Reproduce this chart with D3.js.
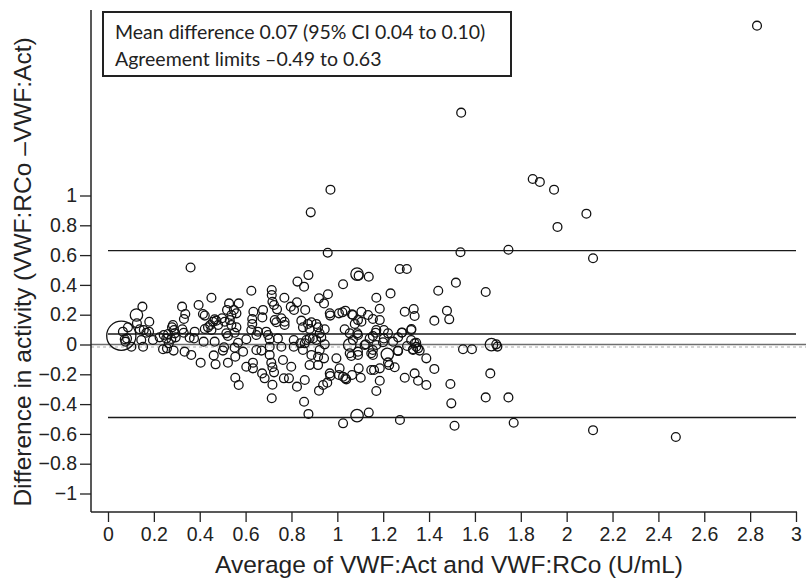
<!DOCTYPE html>
<html>
<head>
<meta charset="utf-8">
<script src="https://cdn.jsdelivr.net/npm/d3@7"></script>
<style>
  body { margin: 0; background: #fff; }
  svg { display: block; }
</style>
</head>
<body>
<svg id="chart"></svg>
<script>
//Canvas settings
var width = 806;
var height = 583;

//Summary values shown on the chart
var meanDiff = 0.07;
var upperLimit = 0.63;
var lowerLimit = -0.49;
var legendLines = ["Mean difference 0.07 (95% CI 0.04 to 0.10)", "Agreement limits \u20130.49 to 0.63"];

//Tick labels
var xTicks = [0, 0.2, 0.4, 0.6, 0.8, 1, 1.2, 1.4, 1.6, 1.8, 2, 2.2, 2.4, 2.6, 2.8, 3];
var yTicks = [-1, -0.8, -0.6, -0.4, -0.2, 0, 0.2, 0.4, 0.6, 0.8, 1];

//Single observations [average, difference]
var singlePoints = [
  [2.83,2.14],[1.54,1.556],[1.852,1.111],[1.883,1.091],[1.945,1.039],[2.086,0.878],[1.96,0.789],
  [1.537,0.619],[1.746,0.636],[2.115,0.579],[0.97,1.039],[0.884,0.887],[0.958,0.616],[2.476,-0.621],
  [0.36,0.517],[0.874,0.466],[0.826,0.422],[0.855,0.388],[1.025,0.404],[0.625,0.361],[0.714,0.366],
  [0.714,0.332],[0.717,0.287],[0.724,0.265],[0.737,0.236],[0.451,0.314],[0.769,0.314],[0.959,0.337],
  [0.92,0.31],[0.942,0.276],[0.15,0.254],[0.323,0.254],[0.337,0.205],[0.331,0.171],[0.395,0.265],
  [0.528,0.276],[0.57,0.276],[0.549,0.232],[0.519,0.232],[0.538,0.198],[0.56,0.209],[0.797,0.254],
  [0.811,0.232],[0.824,0.283],[0.86,0.232],[0.634,0.22],[0.676,0.232],[0.673,0.182],[0.629,0.171],
  [0.629,0.138],[0.414,0.205],[0.422,0.194],[0.18,0.153],[0.283,0.131],[0.279,0.115],[0.288,0.097],
  [0.465,0.169],[0.458,0.153],[0.472,0.16],[0.446,0.131],[0.436,0.115],[0.422,0.104],[0.451,0.097],
  [0.48,0.131],[0.497,0.176],[0.509,0.153],[0.531,0.164],[0.538,0.131],[0.727,0.164],[0.734,0.149],
  [0.756,0.176],[0.77,0.153],[0.77,0.131],[0.843,0.16],[0.872,0.138],[0.887,0.149],[0.908,0.138],
  [0.916,0.115],[0.879,0.104],[0.85,0.115],[0.967,0.209],[0.969,0.194],[1.007,0.209],[1.022,0.216],
  [1.035,0.227],[1.032,0.102],[0.945,0.102],[0.923,0.075],[0.93,0.048],
  [0.065,0.086],[0.087,0.115],[0.073,0.035],[0.083,0.041],[0.102,-0.015],[0.076,0.019],
  [0.126,0.142],[0.138,0.102],[0.156,0.097],[0.167,0.079],[0.179,0.086],[0.145,0.03],[0.153,-0.015],
  [0.196,0.03],[0.225,0.048],[0.243,0.064],[0.262,0.07],[0.254,0.041],[0.265,0.008],[0.276,0.037],
  [0.295,0.048],[0.291,0.075],[0.24,-0.032],[0.257,-0.026],[0.286,-0.041],[0.324,0.102],[0.33,0.079],
  [0.378,0.086],[0.375,0.041],[0.356,0.046],[0.334,-0.048],[0.363,-0.07],[0.404,-0.122],[0.469,-0.133],
  [0.461,-0.073],[0.417,0.019],[0.465,0.019],[0.506,-0.019],[0.501,-0.041],[0.523,0.057],[0.516,0.075],
  [0.552,0.079],[0.56,0.115],
  [0.523,-0.122],[0.555,-0.082],[0.555,-0.223],[0.57,-0.272],[0.552,-0.021],[0.567,0.012],[0.589,-0.048],
  [0.603,-0.149],[0.632,-0.16],[0.632,-0.122],[0.647,-0.037],[0.669,-0.041],[0.672,-0.194],[0.683,-0.227],
  [0.705,-0.07],[0.705,-0.015],[0.705,0.035],[0.698,0.064],[0.69,0.086],[0.712,-0.122],[0.717,-0.153],
  [0.724,-0.187],[0.717,-0.27],[0.714,-0.361],[0.603,0.035],[0.625,0.097],[0.647,0.064],[0.654,0.086],
  [0.741,0.041],[0.756,-0.015],[0.763,-0.104],[0.767,-0.227],[0.789,-0.227],[0.799,-0.149],[0.81,-0.015],
  [0.81,0.03],[0.824,-0.283],[0.858,-0.238],[0.855,-0.384],[0.874,-0.466],[0.839,0.008],[0.85,-0.037],
  [0.858,0.008],[0.865,0.03],[0.879,0.041],[0.894,0.041],[0.908,0.03],[0.945,0.001],[0.923,-0.037],
  [0.916,-0.082],[0.887,-0.07],[0.879,-0.138],[0.916,-0.138],[0.942,-0.093],[0.967,-0.194],[0.969,-0.211],
  [1.007,-0.205],[1.025,-0.216],[1.035,-0.227],[0.996,-0.093],[1.01,-0.16],[0.956,-0.256],[0.938,-0.272],
  [0.92,-0.31],[1.025,-0.529],[1.054,-0.059],
  [1.093,0.462],[1.137,0.455],[1.272,0.507],[1.303,0.507],[1.517,0.415],[1.44,0.361],[1.647,0.352],
  [1.232,0.343],[1.17,0.314],[1.185,0.24],[1.064,0.202],[1.105,0.22],[1.134,0.198],[1.155,0.171],
  [1.185,0.164],[1.09,0.164],[1.105,0.153],[1.076,0.138],[1.054,0.075],[1.087,0.075],[1.068,0.03],
  [1.124,0.001],[1.155,0.057],[1.167,0.079],[1.17,0.097],[1.203,0.097],[1.221,0.075],[1.203,0.041],
  [1.243,0.019],[1.265,0.048],[1.281,0.079],[1.294,0.22],[1.333,0.238],[1.337,0.191],[1.322,0.097],
  [1.322,0.03],[1.33,-0.032],[1.344,0.012],[1.344,-0.015],[1.359,-0.041],[1.388,-0.093],[1.423,0.16],
  [1.478,0.227],[1.488,0.169],[1.304,-0.01],[1.264,-0.041],[1.17,-0.003],[1.155,-0.037],[1.155,-0.07],
  [1.09,-0.07],[1.061,-0.077],[1.226,-0.138],[1.25,-0.153],[1.185,-0.16],[1.148,-0.171],[1.16,-0.171],
  [1.093,-0.16],[1.064,-0.205],[1.039,-0.234],[1.102,-0.223],[1.185,-0.243],[1.17,-0.312],[1.294,-0.223],
  [1.337,-0.194],[1.352,-0.243],[1.388,-0.272],[1.423,-0.164],[1.493,-0.265],[1.497,-0.395],[1.548,-0.032],
  [1.587,-0.032],[1.693,0.001],[1.698,-0.014],[1.667,-0.194],[1.647,-0.355],[1.746,-0.355],[1.137,-0.457],
  [1.273,-0.507],[1.511,-0.545],[1.769,-0.525],[2.115,-0.575],
  [1.323,0.104],[1.282,0.081],[1.221,-0.12],[1.265,-0.044],[1.141,0.041],[1.09,0.064],[1.119,-0.003],
  [1.199,0.015],[1.337,0.008],[1.352,-0.026],[1.33,-0.037],[1.148,-0.059],[1.09,-0.048],[1.068,0.198]
];

//Overlapping observations [average, difference, count]
var multiPoints = [
  [0.058,0.059,11],[0.124,0.198,2],[1.086,0.473,2],[1.054,-0.003,2],
  [1.218,-0.066,2],[1.672,-0.001,2],[1.086,-0.477,2]
];

var svg = d3.select("#chart")
  .attr("width", width)
  .attr("height", height);

var x = d3.scaleLinear().domain([0, 3]).range([108, 796]);
var y = d3.scaleLinear().domain([-1, 1]).range([493.5, 195.5]);
var r = d3.scaleSqrt().domain([0, 1]).range([0, 4.4]);

var axisX = 91, axisY = 512, axisTop = 10;
var sansFont = "'Liberation Sans', Arial, Helvetica, sans-serif";

function fmt(d) {
  return (d < 0 ? "\u2212" : "") + (+Math.abs(d).toFixed(1));
}

//zero reference line (grey, with faint dotted shadow)
svg.append("line")
  .attr("x1", axisX).attr("x2", width)
  .attr("y1", y(0) + 2.5).attr("y2", y(0) + 2.5)
  .attr("stroke", "#d4d4d4").attr("stroke-width", 2)
  .attr("stroke-dasharray", "3,3");
svg.append("line")
  .attr("x1", axisX).attr("x2", width)
  .attr("y1", y(0)).attr("y2", y(0))
  .attr("stroke", "#6e6e6e").attr("stroke-width", 1.5);

//mean and limits of agreement
svg.selectAll("line.ref")
  .data([meanDiff, upperLimit, lowerLimit])
  .enter().append("line")
  .attr("class", "ref")
  .attr("x1", x(0)).attr("x2", x(3))
  .attr("y1", function(d) { return y(d); })
  .attr("y2", function(d) { return y(d); })
  .attr("stroke", "#1a1a1a").attr("stroke-width", 1.4);

//points
svg.append("g").selectAll("circle")
  .data(singlePoints)
  .enter().append("circle")
  .attr("cx", function(d) { return x(d[0]); })
  .attr("cy", function(d) { return y(d[1]); })
  .attr("r", r(1))
  .attr("fill", "none")
  .attr("stroke", "#111")
  .attr("stroke-width", 1.3);

svg.append("g").selectAll("circle")
  .data(multiPoints)
  .enter().append("circle")
  .attr("cx", function(d) { return x(d[0]); })
  .attr("cy", function(d) { return y(d[1]); })
  .attr("r", function(d) { return r(d[2]); })
  .attr("fill", "none")
  .attr("stroke", "#111")
  .attr("stroke-width", 1.3);

//axes
var gy = svg.append("g")
  .attr("transform", "translate(" + axisX + ",0)")
  .call(d3.axisLeft(y).tickValues(yTicks).tickFormat(fmt).tickSize(11).tickPadding(3));
gy.select(".domain").remove();

var gx = svg.append("g")
  .attr("transform", "translate(0," + axisY + ")")
  .call(d3.axisBottom(x).tickValues(xTicks).tickFormat(fmt).tickSize(10).tickPadding(5));
gx.select(".domain").remove();

svg.selectAll(".tick line").attr("stroke", "#222").attr("stroke-width", 1.3);
svg.selectAll(".tick text")
  .style("font-family", sansFont)
  .style("font-size", "19.5px")
  .attr("fill", "#222");

svg.append("line")
  .attr("x1", axisX).attr("x2", axisX)
  .attr("y1", axisTop).attr("y2", axisY)
  .attr("stroke", "#222").attr("stroke-width", 1.5);
svg.append("line")
  .attr("x1", axisX).attr("x2", 797)
  .attr("y1", axisY).attr("y2", axisY)
  .attr("stroke", "#222").attr("stroke-width", 1.5);

//axis titles
svg.append("text")
  .attr("x", 449).attr("y", 573)
  .attr("text-anchor", "middle")
  .style("font-family", sansFont)
  .style("font-size", "24.5px")
  .attr("fill", "#222")
  .text("Average of VWF:Act and VWF:RCo (U/mL)");

svg.append("text")
  .attr("transform", "translate(31,272) rotate(-90)")
  .attr("text-anchor", "middle")
  .style("font-family", sansFont)
  .style("font-size", "24.5px")
  .attr("fill", "#222")
  .text("Difference in activity (VWF:RCo \u2013VWF:Act)");

//legend box
svg.append("rect")
  .attr("x", 103).attr("y", 12)
  .attr("width", 408).attr("height", 64)
  .attr("fill", "#fff")
  .attr("stroke", "#222").attr("stroke-width", 2);

svg.append("g").selectAll("text")
  .data(legendLines)
  .enter().append("text")
  .attr("x", 115)
  .attr("y", function(d, i) { return 39 + i * 27; })
  .style("font-family", "Lato, sans-serif")
  .style("font-size", "19.5px")
  .attr("fill", "#222")
  .text(function(d) { return d; });
</script>
</body>
</html>
